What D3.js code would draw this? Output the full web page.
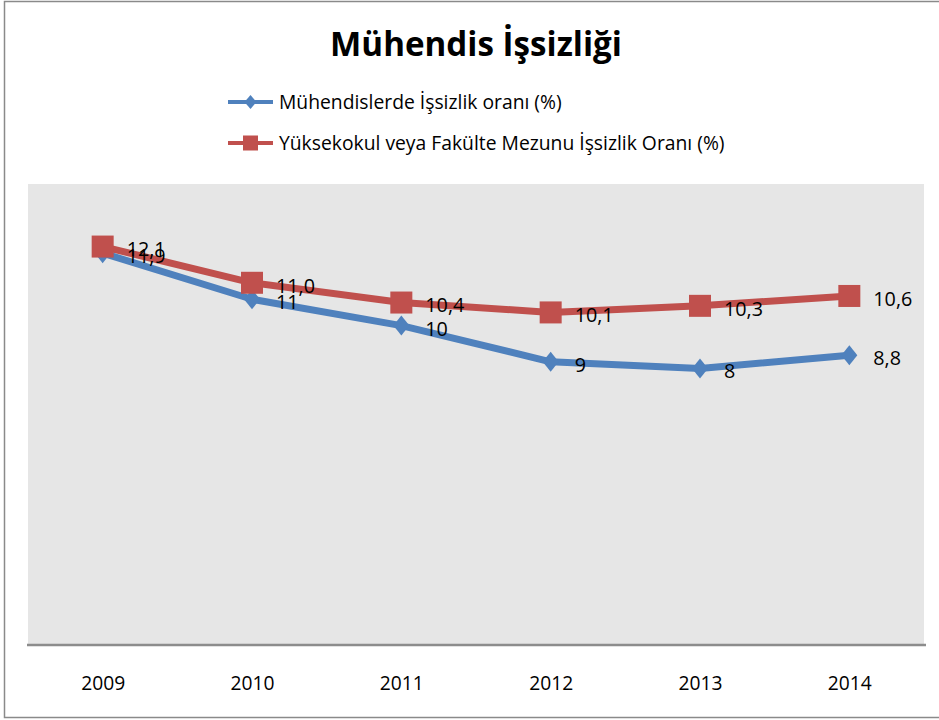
<!DOCTYPE html>
<html>
<head>
<meta charset="utf-8">
<script src="https://cdn.jsdelivr.net/npm/d3@7"></script>
<style>
  html, body { margin: 0; padding: 0; background: #fff; }
  svg { display: block; font-family: "Open Sans", "DejaVu Sans", sans-serif; }
</style>
</head>
<body>
<script>
// ---- data ----
const title = "Mühendis İşsizliği";
const years = ["2009", "2010", "2011", "2012", "2013", "2014"];
const seriesNames = [
  "Mühendislerde İşsizlik oranı (%)",
  "Yüksekokul veya Fakülte Mezunu İşsizlik Oranı (%)"
];
const engineerValues = [11.9, 10.5, 9.7, 8.6, 8.4, 8.8];
const engineerLabels = ["11,9", "11", "10", "9", "8", "8,8"];
const graduateValues = [12.1, 11.0, 10.4, 10.1, 10.3, 10.6];
const graduateLabels = ["12,1", "11,0", "10,4", "10,1", "10,3", "10,6"];
const yDomain = [0, 14];

// ---- layout ----
const W = 939, H = 720;
const plot = { left: 28, right: 924, top: 184, bottom: 645 };
const blue = "#4F81BD", red = "#C0504D";

const svg = d3.select("body").append("svg").attr("width", W).attr("height", H);

// outer frame
svg.append("rect").attr("x", 4.5).attr("y", 1.5).attr("width", W).attr("height", 716)
  .attr("fill", "#fff").attr("stroke", "#8a8a8a").attr("stroke-width", 1.5);

const x = d3.scalePoint().domain(years).range([plot.left, plot.right]).padding(0.5);
const y = d3.scaleLinear().domain(yDomain).range([plot.bottom, plot.top]);

// plot background
svg.append("rect").attr("x", plot.left).attr("y", plot.top)
  .attr("width", plot.right - plot.left).attr("height", plot.bottom - plot.top)
  .attr("fill", "#E6E6E6");

// fit helper: pick a font size so the text reaches a target width
function fitSize(text, weight, targetWidth, base) {
  const t = svg.append("text").attr("font-size", base).attr("font-weight", weight).text(text);
  const w = t.node().getComputedTextLength();
  t.remove();
  return base * targetWidth / w;
}

// x axis
const xAxis = d3.axisBottom(x).tickSize(0).tickPadding(0);
const gx = svg.append("g").attr("transform", `translate(0,${plot.bottom})`).call(xAxis);
gx.select(".domain").remove();
svg.append("line").attr("x1", plot.left - 1).attr("x2", plot.right + 2)
  .attr("y1", plot.bottom).attr("y2", plot.bottom)
  .attr("stroke", "#8c8c8c").attr("stroke-width", 2.5);
const axisSize = fitSize("2009", 400, 44, 16);
gx.selectAll(".tick text")
  .attr("y", 38).attr("dy", "0.35em")
  .attr("font-family", '"Open Sans", sans-serif')
  .attr("font-size", axisSize).attr("fill", "#000");

// lines
const line = d3.line().x((d, i) => x(years[i])).y(d => y(d));

svg.append("path").datum(graduateValues).attr("d", line)
  .attr("fill", "none").attr("stroke", red).attr("stroke-width", 7).attr("stroke-linejoin", "round");
svg.append("path").datum(engineerValues).attr("d", line)
  .attr("fill", "none").attr("stroke", blue).attr("stroke-width", 7).attr("stroke-linejoin", "round");

// markers
const diamond = "M0,-10 L8,0 L0,10 L-8,0 Z";
svg.append("g").selectAll("path").data(engineerValues).join("path")
  .attr("d", diamond)
  .attr("transform", (d, i) => `translate(${x(years[i])},${y(d)})`)
  .attr("fill", blue);
svg.append("g").selectAll("rect").data(graduateValues).join("rect")
  .attr("x", (d, i) => x(years[i]) - 11).attr("y", d => y(d) - 11)
  .attr("width", 22).attr("height", 22).attr("fill", red);

// data labels
const labelSize = fitSize("10,6", 400, 39, 16);
function labels(vals, txts) {
  svg.append("g").selectAll("text").data(vals).join("text")
    .attr("x", (d, i) => x(years[i]) + 24)
    .attr("y", d => y(d) + 3)
    .attr("dy", "0.35em")
    .attr("font-size", labelSize).attr("fill", "#000")
    .text((d, i) => txts[i]);
}
labels(graduateValues, graduateLabels);
labels(engineerValues, engineerLabels);

// title
const titleSize = fitSize(title, 700, 292, 30);
svg.append("text").attr("x", 476).attr("y", 44).attr("text-anchor", "middle")
  .attr("dy", "0.35em").attr("font-size", titleSize).attr("font-weight", 700)
  .attr("fill", "#000").text(title);

// legend
const legSize = fitSize(seriesNames[0], 400, 283, 16);
const legY = [102, 143];
const legColors = [blue, red];
seriesNames.forEach((name, i) => {
  const g = svg.append("g").attr("transform", `translate(0,${legY[i]})`);
  g.append("line").attr("x1", 228).attr("x2", 273).attr("y1", 0).attr("y2", 0)
    .attr("stroke", legColors[i]).attr("stroke-width", 4);
  if (i === 0) {
    g.append("path").attr("d", "M0,-7 L6,0 L0,7 L-6,0 Z")
      .attr("transform", "translate(250.5,0)").attr("fill", blue);
  } else {
    g.append("rect").attr("x", 243).attr("y", -7.5).attr("width", 15).attr("height", 15).attr("fill", red);
  }
  g.append("text").attr("x", 279).attr("y", 0).attr("dy", "0.35em")
    .attr("font-size", legSize).attr("fill", "#000").text(name);
});
</script>
</body>
</html>
